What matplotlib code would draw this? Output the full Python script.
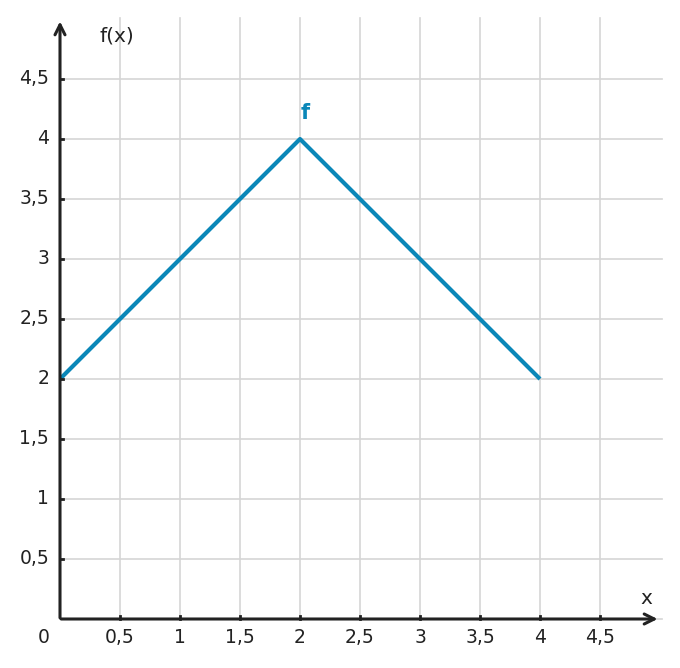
import matplotlib.pyplot as plt

# data of the piecewise linear function f
x_vals = [0, 2, 4]
f_vals = [2, 4, 2]

grid_steps = [0.5, 1, 1.5, 2, 2.5, 3, 3.5, 4, 4.5]
tick_labels = ['0,5', '1', '1,5', '2', '2,5', '3', '3,5', '4', '4,5']

line_col = '#0a87b8'
axis_col = '#222222'
grid_col = '#d5d5d5'

fig = plt.figure(figsize=(6.8, 6.68), dpi=100)
ax = fig.add_axes([60/680, 49/668, 600/680, 600/668])
ax.set_xlim(0, 5)
ax.set_ylim(0, 5)
ax.axis('off')

#%% grid
for g in grid_steps:
    ax.plot([g, g], [0, 5.01], color=grid_col, lw=1.2, clip_on=False, zorder=1)
    ax.plot([0, 5.02], [g, g], color=grid_col, lw=1.2, clip_on=False, zorder=1)
ax.plot([0, 5.02], [0, 0], color=grid_col, lw=1.2, clip_on=False, zorder=1)

#%% axes with arrows
ax.annotate('', xy=(4.98, 0), xytext=(0.01, 0),
            arrowprops=dict(arrowstyle='->', color=axis_col, lw=2.2,
                            mutation_scale=18, shrinkA=0, shrinkB=0), zorder=3)
ax.annotate('', xy=(0, 4.98), xytext=(0, 0.01),
            arrowprops=dict(arrowstyle='->', color=axis_col, lw=2.2,
                            mutation_scale=18, shrinkA=0, shrinkB=0), zorder=3)

#%% ticks and labels
fs = 13.5
for g, lab in zip(grid_steps, tick_labels):
    ax.plot([g, g], [0, 0.025], color=axis_col, lw=2, clip_on=False, zorder=3)
    ax.plot([0, 0.025], [g, g], color=axis_col, lw=2, clip_on=False, zorder=3)
    ax.text(g, -0.155, lab, ha='center', va='center', fontsize=fs, color=axis_col)
    ax.text(-0.09, g, lab, ha='right', va='center', fontsize=fs, color=axis_col)
ax.text(-0.14, -0.155, '0', ha='center', va='center', fontsize=fs, color=axis_col)

ax.text(0.33, 4.86, 'f(x)', ha='left', va='center', fontsize=14.5, color=axis_col)
ax.text(4.89, 0.17, 'x', ha='center', va='center', fontsize=14.5, color=axis_col)

#%% function
ax.plot(x_vals, f_vals, color=line_col, lw=3, zorder=2, solid_capstyle='butt')
ax.text(2.04, 4.22, 'f', ha='center', va='center', fontsize=15, fontweight='bold', color=line_col)

fig.savefig('out.png', dpi=100)
